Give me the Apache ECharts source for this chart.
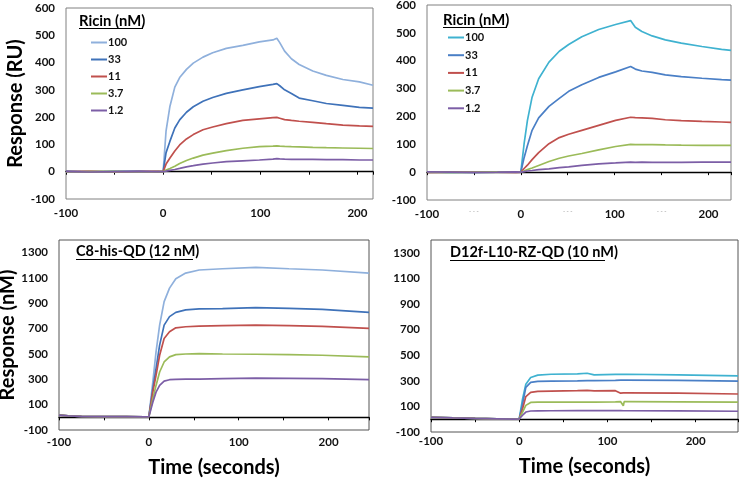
<!DOCTYPE html>
<html><head><meta charset="utf-8">
<script src="https://cdn.jsdelivr.net/npm/echarts@6/dist/echarts.min.js"></script>
<style>html,body{margin:0;padding:0;background:#fff}#c{width:740px;height:479px}</style>
</head><body><div id="c"></div>
<script>
// ---------- data ----------
const legendLabels = ['100', '33', '11', '3.7', '1.2'];

// Top-left panel (Ricin, RU)
const tTL   = [-100,-75,-50,-25,-5,0,3,7,12,17,24,31,41,51,65,82,99,113,117,120,125,132,140,154,168,185,202,216];
const tl100 = [2,0,1,-1,0,0,150,240,310,345,375,398,420,436,452,463,476,483,489,473,442,414,393,369,353,338,329,317];
const tl33  = [1,-1,0,1,-1,0,70,112,160,190,218,238,258,272,287,300,312,320,323,315,300,287,270,260,250,243,236,233];
const tl11  = [0,1,-1,0,1,0,28,50,76,98,120,136,154,164,176,188,194,198,199,196,191,188,185,181,176,171,168,166];
const tl3_7 = [-1,0,1,-1,0,0,6,12,20,30,41,50,61,68,77,86,92,94,95,94,93,92,91,89,88,87,86,85];
const tl1_2 = [0,-1,0,1,0,0,2,5,8,12,18,22,28,32,37,40,43,46,48,47,46,45,45,45,44,44,43,43];

// Top-right panel (Ricin, RU)
const tTR   = [-100,-75,-50,-25,-5,0,3.5,7,12,19,30,41,51,65,83,101,117,122,129,140,154,171,193,214,224];
const tr100 = [1,-1,0,1,0,0,102,185,269,335,395,434,458,486,512,530,544,520,505,489,475,463,451,441,437];
const tr33  = [0,1,-1,0,1,0,52,95,150,195,236,265,290,314,340,360,379,370,363,358,349,343,337,332,330];
const tr11  = [-1,0,1,0,-1,0,13,25,45,70,102,124,136,150,168,186,197,196,195,193,188,185,182,180,179];
const tr3_7 = [0,-1,0,1,0,0,4,9,15,24,38,50,58,67,80,92,100,99,99,99,98,97,96,96,96];
const tr1_2 = [1,0,-1,0,1,0,2,4,6,9,12,16,19,24,30,33,36,35,36,35,35,35,36,36,36];

// Bottom-left panel (C8-his-QD, nM)
const tBL  = [-100,-90,-75,-50,-25,-5,0,4.4,8,12,17,23,30,41,56,82,119,156,193,245];
const bl1  = [18,12,8,6,5,4,5,278,517,728,914,1020,1094,1139,1163,1173,1184,1173,1163,1139];
const bl2  = [18,12,8,6,5,4,5,225,384,570,728,795,829,848,856,858,866,860,852,829];
const bl3  = [18,12,8,6,5,4,5,199,331,490,623,675,707,715,720,724,728,724,718,702];
const bl4  = [18,12,8,6,5,4,5,146,252,358,437,477,495,500,503,500,498,495,490,477];
const bl5  = [18,12,8,6,5,4,5,119,199,252,286,297,300,302,302,305,310,308,305,297];

// Bottom-right panel (D12f-L10-RZ-QD, nM)
const tBR  = [-100,-75,-50,-25,-5,0,3.8,7.5,13,21,36,66,77,85,109,115,117,118,119,122,180,248];
const br1  = [15,10,6,3,1,2,159,274,326,344,351,354,359,346,350,350,350,350,350,351,346,338];
const br2  = [15,10,6,3,1,2,120,249,287,295,298,300,302,302,304,305,305,305,305,305,304,297];
const br3  = [15,10,6,3,1,2,82,177,210,218,220,223,225,222,223,203,205,205,205,205,203,197];
const br4  = [15,10,6,3,1,2,56,108,131,133,133,133,134,134,136,137,137,105,137,138,136,133];
const br5  = [15,10,6,3,1,2,31,56,64,65,66,67,67,67,67,67,66,66,66,66,65,62];

const xTickLabels = [-100, 0, 100, 200];
const yTicksTop = { min: -100, max: 600, interval: 100 };
const yTicksBottom = { min: -100, max: 1400, interval: 200 };

// ---------- styling ----------
const FONT = 'Lato';
const C = {
  lightBlue: '#8fb0dc', cyan: '#3fb2d0', blue: '#3f72b9', blue2: '#4a7fc6',
  red: '#c0504d', green: '#9bbb59', purple: '#7c5ea6'
};

const gridBase = { show: true, borderWidth: 1, outerBoundsMode: 'none', containLabel: false };
const grids = [
  Object.assign({ left: 66, top: 8, width: 307, height: 191, borderColor: '#808080' }, gridBase),
  Object.assign({ left: 427, top: 5, width: 304, height: 195, borderColor: '#808080' }, gridBase),
  Object.assign({ left: 59, top: 240, width: 310, height: 190, borderColor: '#555' }, gridBase),
  Object.assign({ left: 431, top: 240, width: 307, height: 192, borderColor: '#555' }, gridBase)
];

const nameStyle = { fontFamily: FONT, fontWeight: 'bold', fontSize: 20, color: '#000' };

// label axis at the bottom of the box
function mkXLabels(gi, max, margin, name, nameGap, artifacts) {
  return {
    type: 'value', gridIndex: gi, min: -100, max: max, interval: 50, position: 'bottom',
    axisLine: { show: false, onZero: false }, axisTick: { show: false }, splitLine: { show: false },
    axisLabel: {
      margin: margin, fontFamily: FONT, fontWeight: 'bold', fontSize: 11.5, color: '#111',
      formatter: function (v) {
        if (xTickLabels.indexOf(v) >= 0) return String(v);
        if (artifacts && (v === -50 || v === 50 || v === 150)) return '{d|- - -}';
        return '';
      },
      rich: { d: { fontSize: 6, color: '#aaa' } }
    },
    name: name || '', nameLocation: 'middle', nameGap: nameGap || 0, nameTextStyle: nameStyle
  };
}
// zero line with tick marks
function mkXZero(gi, max) {
  return {
    type: 'value', gridIndex: gi, min: -100, max: max, interval: 50, position: 'bottom',
    axisLine: { show: true, onZero: true, onZeroAxisIndex: gi, lineStyle: { color: '#000', width: 1.3 } },
    axisTick: { show: true, length: 3, lineStyle: { color: '#000' } },
    axisLabel: { show: false }, splitLine: { show: false }
  };
}
function mkY(gi, ticks, name, nameGap) {
  return {
    type: 'value', gridIndex: gi, min: ticks.min, max: ticks.max, interval: ticks.interval,
    axisLine: { show: false, onZero: false }, axisTick: { show: false }, splitLine: { show: false },
    axisLabel: {
      margin: 11, fontFamily: FONT, fontWeight: 'bold', fontSize: 11.5, color: '#111',
      formatter: function (v) { return ((v - ticks.min) % ticks.interval === 0) ? String(v) : ''; }
    },
    name: name || '', nameLocation: 'middle', nameGap: nameGap || 0, nameTextStyle: nameStyle
  };
}

function pairs(t, v) { return t.map((x, i) => [x, v[i]]); }
function line(name, gi, t, v, color) {
  return {
    type: 'line', name: name, xAxisIndex: gi, yAxisIndex: gi, data: pairs(t, v),
    symbol: 'none', animation: false, lineStyle: { color: color, width: 1.7 }, itemStyle: { color: color }
  };
}

const series = [
  line('100', 0, tTL, tl100, C.lightBlue), line('33', 0, tTL, tl33, C.blue), line('11', 0, tTL, tl11, C.red),
  line('3.7', 0, tTL, tl3_7, C.green), line('1.2', 0, tTL, tl1_2, C.purple),
  line('100 ', 1, tTR, tr100, C.cyan), line('33 ', 1, tTR, tr33, C.blue2), line('11 ', 1, tTR, tr11, C.red),
  line('3.7 ', 1, tTR, tr3_7, C.green), line('1.2 ', 1, tTR, tr1_2, C.purple),
  line('C8 1', 2, tBL, bl1, C.lightBlue), line('C8 2', 2, tBL, bl2, C.blue), line('C8 3', 2, tBL, bl3, C.red),
  line('C8 4', 2, tBL, bl4, C.green), line('C8 5', 2, tBL, bl5, C.purple),
  line('D12 1', 3, tBR, br1, C.cyan), line('D12 2', 3, tBR, br2, C.blue2), line('D12 3', 3, tBR, br3, C.red),
  line('D12 4', 3, tBR, br4, C.green), line('D12 5', 3, tBR, br5, C.purple)
];

const legendBase = {
  orient: 'vertical', icon: 'rect', itemWidth: 16, itemHeight: 2, itemGap: 4, padding: 0,
  selectedMode: false,
  textStyle: { fontFamily: FONT, fontWeight: 'bold', fontSize: 11, color: '#111', lineHeight: 13, padding: [0, 0, 0, -4] }
};

const titleStyle = (size) => ({ fontFamily: FONT, fontWeight: 'bold', fontSize: size, color: '#000' });

const option = {
  backgroundColor: '#fff',
  animation: false,
  title: [
    { text: 'Ricin (nM)', left: 79, top: 14, padding: 0, textStyle: titleStyle(14.8) },
    { text: 'Ricin (nM)', left: 443, top: 13, padding: 0, textStyle: titleStyle(14.8) },
    { text: 'C8-his-QD (12 nM)', left: 76, top: 244, padding: 0, textStyle: titleStyle(14.5) },
    { text: 'D12f-L10-RZ-QD (10 nM)', left: 450, top: 245, padding: 0, textStyle: titleStyle(14.5) }
  ],
  legend: [
    Object.assign({}, legendBase, { left: 91, top: 36, data: legendLabels }),
    Object.assign({}, legendBase, { left: 448, top: 31, itemGap: 4.7, data: legendLabels.map(s => s + ' ') })
  ],
  grid: grids,
  xAxis: [
    mkXZero(0, 216), mkXZero(1, 224), mkXZero(2, 245), mkXZero(3, 248),
    mkXLabels(0, 216, 8),
    mkXLabels(1, 224, 8, '', 0, true),
    mkXLabels(2, 245, 6, 'Time (seconds)', 28),
    mkXLabels(3, 248, 3, 'Time (seconds)', 25)
  ],
  yAxis: [
    mkY(0, yTicksTop, 'Response (RU)', 40),
    mkY(1, yTicksTop),
    mkY(2, yTicksBottom, 'Response (nM)', 38),
    mkY(3, yTicksBottom)
  ],
  graphic: [
    { type: 'line', shape: { x1: 79, y1: 28.5, x2: 143, y2: 28.5 }, style: { stroke: '#000', lineWidth: 1 } },
    { type: 'line', shape: { x1: 443, y1: 27.5, x2: 507, y2: 27.5 }, style: { stroke: '#000', lineWidth: 1 } },
    { type: 'line', shape: { x1: 76, y1: 259.5, x2: 193, y2: 259.5 }, style: { stroke: '#000', lineWidth: 1 } },
    { type: 'line', shape: { x1: 450, y1: 260.5, x2: 605, y2: 260.5 }, style: { stroke: '#000', lineWidth: 1 } }
  ],
  series: series
};

const chart = echarts.init(document.getElementById('c'), null, { renderer: 'canvas' });
chart.setOption(option);
</script>
</body></html>
